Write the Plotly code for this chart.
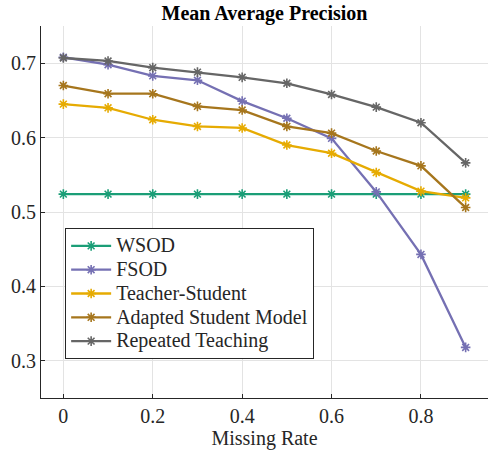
import plotly.graph_objects as go

missing_rate = [0, 0.1, 0.2, 0.3, 0.4, 0.5, 0.6, 0.7, 0.8, 0.9]
wsod = [0.524] * 10
fsod = [0.708, 0.698, 0.683, 0.677, 0.649, 0.626, 0.599, 0.527, 0.443, 0.318]
teacher_student = [0.645, 0.640, 0.624, 0.615, 0.613, 0.590, 0.579, 0.553, 0.528, 0.519]
adapted_student = [0.670, 0.659, 0.659, 0.642, 0.637, 0.615, 0.606, 0.582, 0.562, 0.506]
repeated_teaching = [0.707, 0.703, 0.694, 0.688, 0.681, 0.673, 0.658, 0.641, 0.620, 0.566]

series = [
    ("WSOD", wsod, "#1b9e77"),
    ("FSOD", fsod, "#7570b3"),
    ("Teacher-Student", teacher_student, "#e6ab02"),
    ("Adapted Student Model", adapted_student, "#a6761d"),
    ("Repeated Teaching", repeated_teaching, "#666666"),
]

FONT = "Liberation Serif, Times New Roman, serif"
FS = 20

fig = go.Figure()
for name, vals, col in series:
    fig.add_trace(go.Scatter(
        x=missing_rate, y=vals,
        name='<span style="font-size:20px">' + name + '</span>',
        mode="lines+markers",
        line=dict(color=col, width=2.3),
        marker=dict(symbol="asterisk", size=8, color=col,
                    line=dict(color=col, width=1.6)),
    ))

fig.update_layout(
    width=488, height=452,
    margin=dict(l=41, r=0, t=26, b=54),
    paper_bgcolor="white", plot_bgcolor="white",
    font=dict(family=FONT, size=FS, color="#262626"),
    title=dict(text="<b>Mean Average Precision</b>", x=0.542, xanchor="center",
               y=0.972, yanchor="middle", font=dict(family=FONT, size=FS, color="black")),
    showlegend=True,
    legend=dict(x=0.054, y=0.457, xanchor="left", yanchor="top",
                bgcolor="white", bordercolor="#262626", borderwidth=1,
                font=dict(family=FONT, size=16, color="#262626"),
                tracegroupgap=0, itemwidth=40),
    xaxis=dict(range=[-0.05, 0.95], tickvals=[0, 0.2, 0.4, 0.6, 0.8],
               ticktext=["0", "0.2", "0.4", "0.6", "0.8"],
               showgrid=True, gridcolor="#e3e3e3", gridwidth=1,
               zeroline=False, showline=True, linecolor="#262626", linewidth=1,
               ticks="inside", ticklen=4, tickcolor="#262626",
               automargin=False,
               tickfont=dict(size=FS),
               title=dict(text="Missing Rate", standoff=4, font=dict(size=FS))),
    yaxis=dict(range=[0.25, 0.75], tickvals=[0.3, 0.4, 0.5, 0.6, 0.7],
               ticktext=["0.3", "0.4", "0.5", "0.6", "0.7"],
               showgrid=True, gridcolor="#e3e3e3", gridwidth=1,
               zeroline=False, showline=True, linecolor="#262626", linewidth=1,
               ticks="inside", ticklen=4, tickcolor="#262626",
               automargin=False, tickfont=dict(size=FS)),
)

fig.write_html("out.html", config={"displayModeBar": False},
               post_script="document.body.style.margin='0';")
